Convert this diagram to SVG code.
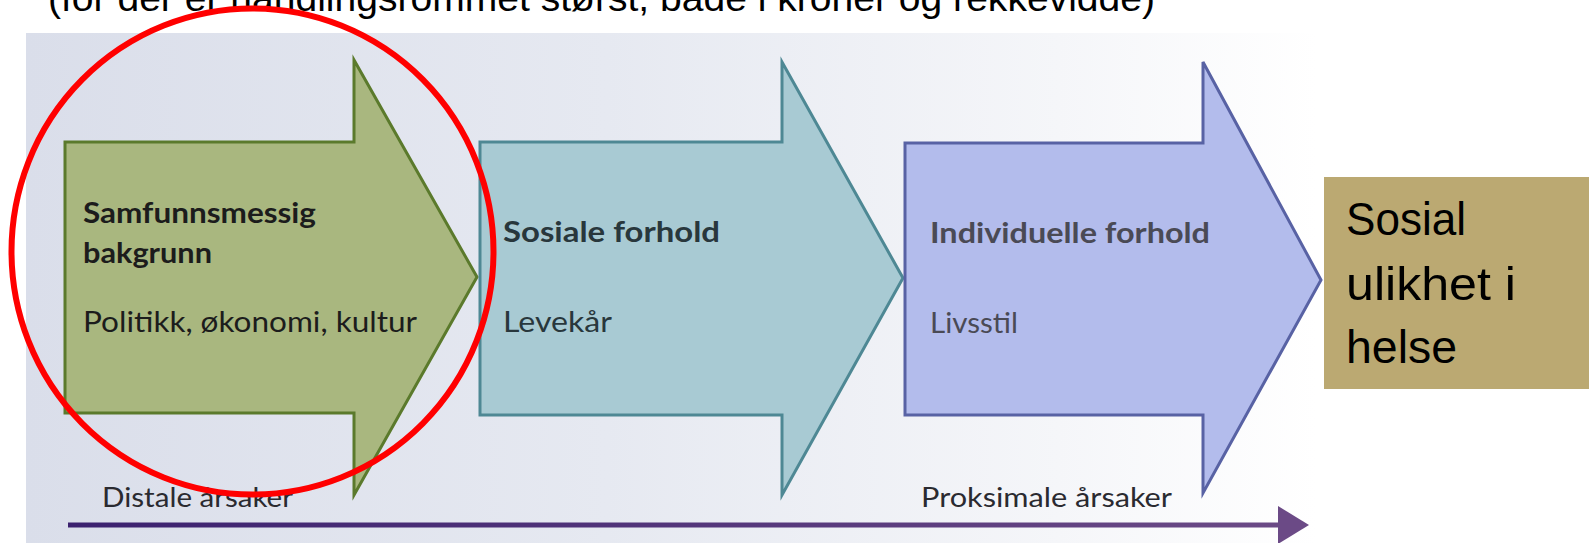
<svg xmlns="http://www.w3.org/2000/svg" width="1589" height="543" viewBox="0 0 1589 543">
<defs>
<linearGradient id="paper" x1="0" y1="0" x2="1" y2="0">
<stop offset="0" stop-color="#DADEEA"/>
<stop offset="0.45" stop-color="#E6E9F1"/>
<stop offset="0.8" stop-color="#F5F6F9"/>
<stop offset="1" stop-color="#FFFFFF"/>
</linearGradient>
<linearGradient id="axis" gradientUnits="userSpaceOnUse" x1="68" y1="0" x2="1280" y2="0">
<stop offset="0" stop-color="#3B216F"/>
<stop offset="1" stop-color="#6B4A86"/>
</linearGradient>
<marker id="axhead" markerUnits="userSpaceOnUse" markerWidth="32" markerHeight="40" refX="0" refY="19" orient="auto">
<polygon points="0,0 31,19 0,38" fill="#6B4A86"/>
</marker>
<style>
.book{font-family:Lato,"Open Sans","Liberation Sans",sans-serif}
.title{font-size:29px;font-weight:700}
.sub{font-size:28px;font-weight:400}
.axis-label{font-size:26px;font-weight:400;fill:#2a2a30}
.slide{font-family:"Liberation Sans",Arial,sans-serif}
</style>
</defs>
<rect x="0" y="0" width="1589" height="543" fill="#FFFFFF"/>
<rect x="26" y="33" width="1290" height="510" fill="url(#paper)"/>
<text class="slide" x="48" y="11" font-size="37" fill="#000" textLength="1107" lengthAdjust="spacingAndGlyphs">(for der er handlingsrommet størst, både i kroner og rekkevidde)</text>

<g id="node-samfunn">
<polygon points="65,142 354,142 354,60 477,277 354,495 354,413 65,413" fill="#A9B77F" stroke="#5B7A2C" stroke-width="3"/>
<text class="book title" x="83" y="223" fill="#1C1C1C" textLength="233" lengthAdjust="spacingAndGlyphs">Samfunnsmessig</text>
<text class="book title" x="83" y="263" fill="#1C1C1C" textLength="129" lengthAdjust="spacingAndGlyphs">bakgrunn</text>
<text class="book sub" x="83" y="332" fill="#1C1C1C" textLength="334" lengthAdjust="spacingAndGlyphs">Politikk, økonomi, kultur</text>
</g>

<g id="node-sosiale">
<polygon points="480,142 782,142 782,62 903,278 782,495 782,415 480,415" fill="#A8CAD3" stroke="#4E8894" stroke-width="3"/>
<text class="book title" x="503" y="242" fill="#28373C" textLength="217" lengthAdjust="spacingAndGlyphs">Sosiale forhold</text>
<text class="book sub" x="503" y="332" fill="#28373C" textLength="109" lengthAdjust="spacingAndGlyphs">Levekår</text>
</g>

<g id="node-individuelle">
<polygon points="905,143 1203,143 1203,62 1321,280 1203,493 1203,415 905,415" fill="#B3BCEC" stroke="#5862A4" stroke-width="3"/>
<text class="book title" x="930" y="243" fill="#4A4A55" textLength="280" lengthAdjust="spacingAndGlyphs">Individuelle forhold</text>
<text class="book sub" x="930" y="333" fill="#4A4A55" textLength="88" lengthAdjust="spacingAndGlyphs">Livsstil</text>
</g>

<g id="node-ulikhet">
<rect x="1324" y="177" width="265" height="212" fill="#BBA972"/>
<text class="slide" x="1346" y="235" font-size="47" fill="#000" textLength="120" lengthAdjust="spacingAndGlyphs">Sosial</text>
<text class="slide" x="1346" y="300" font-size="47" fill="#000" textLength="170" lengthAdjust="spacingAndGlyphs">ulikhet i</text>
<text class="slide" x="1346" y="363" font-size="47" fill="#000" textLength="111" lengthAdjust="spacingAndGlyphs">helse</text>
</g>

<g id="connectors">
<line x1="68" y1="525" x2="1278" y2="525" stroke="url(#axis)" stroke-width="5" marker-end="url(#axhead)"/>
</g>

<g id="axis-labels">
<text class="book axis-label" x="102" y="507" textLength="191" lengthAdjust="spacingAndGlyphs">Distale årsaker</text>
<text class="book axis-label" x="921" y="507" textLength="251" lengthAdjust="spacingAndGlyphs">Proksimale årsaker</text>
</g>

<g id="highlight">
<ellipse cx="252.5" cy="251.5" rx="241" ry="243" fill="none" stroke="#FF0000" stroke-width="6"/>
</g>
</svg>
